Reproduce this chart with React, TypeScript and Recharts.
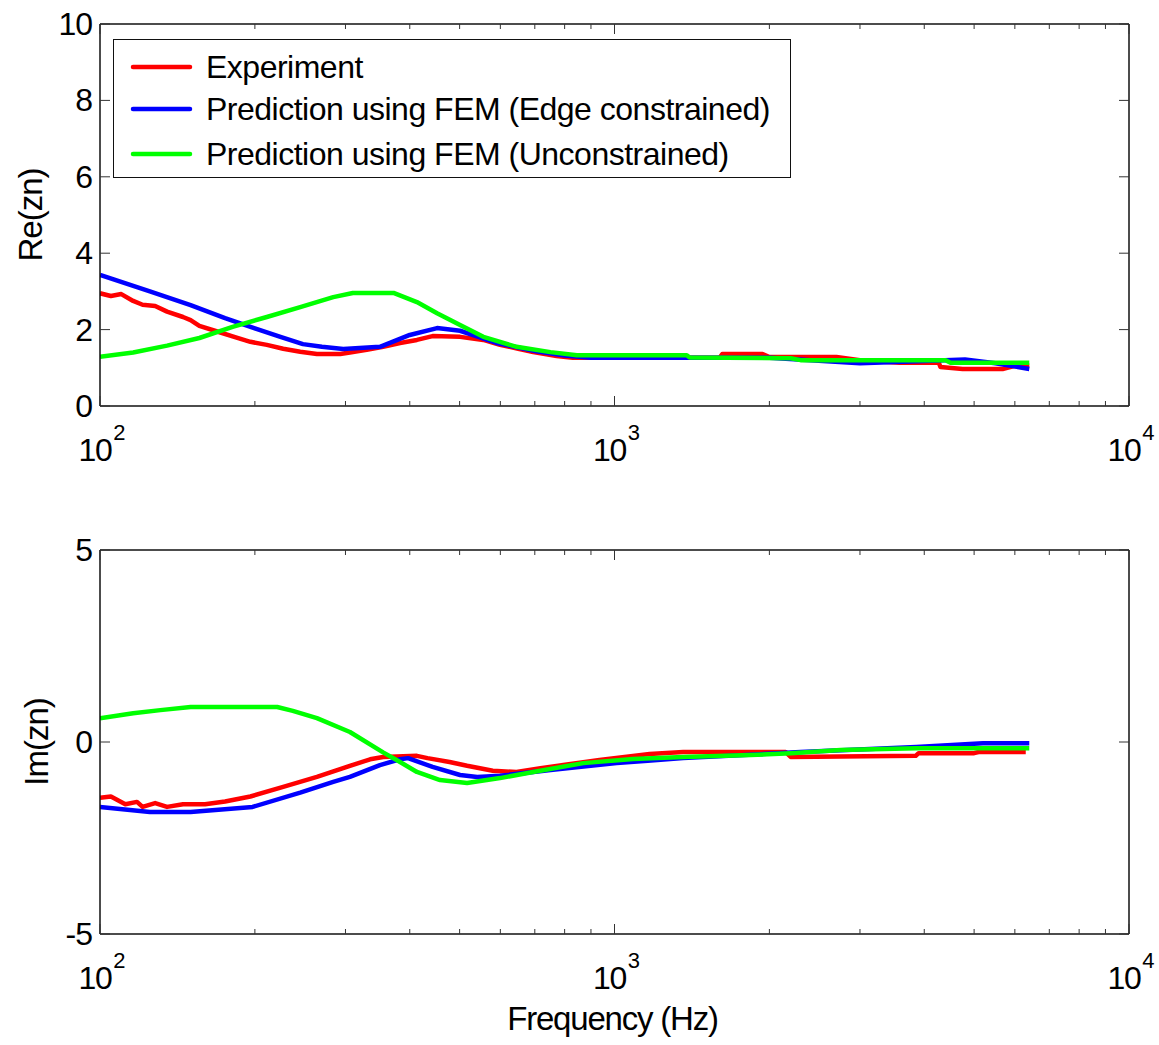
import { LineChart, Line, XAxis, YAxis, Legend } from 'recharts'

const FONT = 'Liberation Sans, Arial, Helvetica, sans-serif'

// axis ticks (log frequency axis, MATLAB-style minor ticks)
const freqTicks = [100, 200, 300, 400, 500, 600, 700, 800, 900, 1000, 2000, 3000, 4000, 5000, 6000, 7000, 8000, 9000, 10000]
const freqMajor = [100, 1000, 10000]
const reTicks = [0, 2, 4, 6, 8, 10]
const imTicks = [-5, 0, 5]

const seriesNames = ['Experiment', 'Prediction using FEM (Edge constrained)', 'Prediction using FEM (Unconstrained)']
const seriesColors = ['#ff0000', '#0000ff', '#00ff00']

// Re(zn) - experiment
const expReFreq = [100, 105, 110, 116, 121, 128, 135, 145, 150, 156, 169, 181, 196, 211, 227, 245, 264, 293, 306, 330, 355, 383, 413, 443, 501, 556, 599, 650, 695, 772, 830, 1000, 1300, 1600, 1620, 1940, 2000, 2700, 3000, 3580, 4270, 4300, 4750, 5680, 6000, 6400]
const expRe = [2.95, 2.88, 2.93, 2.75, 2.65, 2.62, 2.47, 2.33, 2.25, 2.1, 1.95, 1.82, 1.68, 1.6, 1.5, 1.42, 1.36, 1.36, 1.4, 1.47, 1.55, 1.65, 1.73, 1.83, 1.81, 1.73, 1.6, 1.5, 1.41, 1.31, 1.26, 1.26, 1.26, 1.26, 1.36, 1.36, 1.28, 1.28, 1.2, 1.13, 1.13, 1.02, 0.97, 0.97, 1.05, 1.07]

// Re(zn) - FEM edge constrained
const edgeReFreq = [100, 125, 150, 175, 200, 225, 248, 270, 297, 350, 400, 452, 501, 590, 705, 800, 900, 2000, 3000, 4000, 4800, 5500, 6400]
const edgeRe = [3.43, 3.0, 2.64, 2.3, 2.03, 1.8, 1.62, 1.55, 1.49, 1.55, 1.86, 2.04, 1.97, 1.65, 1.43, 1.32, 1.26, 1.26, 1.12, 1.18, 1.22, 1.12, 0.97]

// Re(zn) - FEM unconstrained
const freeReFreq = [100, 116, 135, 156, 181, 211, 245, 284, 310, 372, 413, 452, 501, 556, 645, 751, 845, 1382, 1400, 2200, 2300, 4400, 4500, 6400]
const freeRe = [1.29, 1.4, 1.58, 1.78, 2.07, 2.33, 2.59, 2.85, 2.96, 2.96, 2.72, 2.43, 2.12, 1.81, 1.55, 1.41, 1.33, 1.33, 1.27, 1.25, 1.2, 1.2, 1.13, 1.13]

// Im(zn) - experiment
const expImFreq = [100, 105, 112, 118, 121, 128, 135, 145, 160, 175, 196, 227, 264, 306, 335, 355, 413, 433, 478, 517, 580, 645, 718, 935, 1170, 1360, 2150, 2200, 3850, 3900, 5000, 5100, 6300]
const expIm = [-1.45, -1.42, -1.62, -1.56, -1.69, -1.59, -1.69, -1.62, -1.62, -1.55, -1.42, -1.17, -0.91, -0.62, -0.45, -0.39, -0.36, -0.42, -0.52, -0.62, -0.75, -0.78, -0.68, -0.47, -0.31, -0.26, -0.26, -0.39, -0.36, -0.29, -0.29, -0.26, -0.26]

// Im(zn) - FEM edge constrained
const edgeImFreq = [100, 125, 150, 198, 245, 284, 306, 350, 383, 397, 443, 501, 541, 599, 751, 1010, 1360, 2300, 3860, 5200, 6400]
const edgeIm = [-1.69, -1.82, -1.82, -1.69, -1.32, -1.04, -0.91, -0.6, -0.45, -0.42, -0.65, -0.86, -0.91, -0.88, -0.73, -0.55, -0.42, -0.26, -0.13, -0.03, -0.03]

// Im(zn) - FEM unconstrained
const freeImFreq = [100, 116, 131, 150, 221, 237, 264, 306, 355, 383, 413, 458, 517, 599, 695, 870, 1086, 1360, 1838, 2200, 2750, 3860, 6400]
const freeIm = [0.62, 0.75, 0.83, 0.91, 0.91, 0.81, 0.62, 0.26, -0.27, -0.52, -0.78, -0.99, -1.07, -0.94, -0.78, -0.55, -0.44, -0.39, -0.34, -0.29, -0.21, -0.16, -0.16]

const pairs = (fs: number[], vs: number[]) => fs.map((f, i) => ({ f, v: vs[i] }))

const reSeries = [pairs(expReFreq, expRe), pairs(edgeReFreq, edgeRe), pairs(freeReFreq, freeRe)]
const imSeries = [pairs(expImFreq, expIm), pairs(edgeImFreq, edgeIm), pairs(freeImFreq, freeIm)]

const AXIS = { stroke: '#111', strokeWidth: 1.5 }

const XTick = (props: any) => {
  const { x, y, payload, side } = props
  const v = payload.value
  const major = freqMajor.includes(v)
  const len = major ? 10 : 5
  const dir = side === 'top' ? 1 : -1
  return (
    <g>
      <line x1={x} y1={y} x2={x} y2={y + dir * len} stroke="#333" strokeWidth={1} />
      {major && side === 'bottom' && (
        <text x={x + 2} y={y + 55} textAnchor="middle" fontFamily={FONT} fontSize={32} letterSpacing={-1.5} fill="#000">
          <tspan>10</tspan>
          <tspan dx={2} dy={-21} fontSize={22} letterSpacing={0}>{Math.round(Math.log10(v))}</tspan>
        </text>
      )}
    </g>
  )
}

const YTick = (props: any) => {
  const { x, y, payload, side } = props
  const dir = side === 'left' ? 1 : -1
  return (
    <g>
      <line x1={x} y1={y} x2={x + dir * 10} y2={y} stroke="#333" strokeWidth={1} />
      {side === 'left' && (
        <text x={x - 8} y={y + 11} textAnchor="end" fontFamily={FONT} fontSize={32} letterSpacing={-1} fill="#000">
          {payload.value}
        </text>
      )}
    </g>
  )
}

const LegendBox = () => {
  const rows = [27, 69, 114]
  return (
    <div style={{ width: 678, height: 139, border: '1.5px solid #111', boxSizing: 'border-box', background: '#fff' }}>
      <svg width={676} height={136}>
        {seriesNames.map((name, i) => (
          <g key={name}>
            <line x1={19} x2={76} y1={rows[i]} y2={rows[i]} stroke={seriesColors[i]} strokeWidth={4.5} strokeLinecap="round" />
            <text x={92} y={rows[i] + 11} fontFamily={FONT} fontSize={32} letterSpacing={-0.5} fill="#000">
              {name}
            </text>
          </g>
        ))}
      </svg>
    </div>
  )
}

const yLabel = (text: string, bx: number) => (p: any) => {
  const vb = p.viewBox || { y: 0, height: 0 }
  const cy = vb.y + vb.height / 2
  return (
    <text transform={`translate(${bx}, ${cy}) rotate(-90)`} textAnchor="middle" fontFamily={FONT} fontSize={33} letterSpacing={-1} fill="#000">
      {text}
    </text>
  )
}

const freqLabel = (p: any) => {
  const vb = p.viewBox || { x: 0, y: 0, width: 0 }
  return (
    <text x={vb.x + vb.width / 2 - 2} y={vb.y + 96} textAnchor="middle" fontFamily={FONT} fontSize={33} letterSpacing={-1.2} fill="#000">
      Frequency (Hz)
    </text>
  )
}

// axes are 1px thick so recharts still renders them; margins are reduced by 1 to compensate
const Panel = (props: any) => {
  const { height, margin, series, yDomain, yTicks, yName, yLabelX, showLegend, showXLabel } = props
  return (
    <LineChart width={1159} height={height} margin={margin}>
      <XAxis
        xAxisId="b"
        dataKey="f"
        type="number"
        scale="log"
        domain={[100, 10000]}
        ticks={freqTicks}
        interval={0}
        allowDataOverflow
        height={1}
        tickSize={0}
        tickMargin={0}
        tickLine={false}
        axisLine={AXIS}
        tick={<XTick side="bottom" />}
        label={showXLabel ? { content: freqLabel } : undefined}
      />
      <XAxis
        xAxisId="t"
        orientation="top"
        dataKey="f"
        type="number"
        scale="log"
        domain={[100, 10000]}
        ticks={freqTicks}
        interval={0}
        allowDataOverflow
        height={1}
        tickSize={0}
        tickMargin={0}
        tickLine={false}
        axisLine={AXIS}
        tick={<XTick side="top" />}
      />
      <YAxis
        yAxisId="l"
        type="number"
        domain={yDomain}
        ticks={yTicks}
        interval={0}
        allowDataOverflow
        width={1}
        tickSize={0}
        tickMargin={0}
        tickLine={false}
        axisLine={AXIS}
        tick={<YTick side="left" />}
        label={{ content: yLabel(yName, yLabelX) }}
      />
      <YAxis
        yAxisId="r"
        orientation="right"
        type="number"
        domain={yDomain}
        ticks={yTicks}
        interval={0}
        allowDataOverflow
        width={1}
        tickSize={0}
        tickMargin={0}
        tickLine={false}
        axisLine={AXIS}
        tick={<YTick side="right" />}
      />
      {showLegend && (
        <Legend
          layout="vertical"
          align="center"
          verticalAlign="middle"
          content={() => <LegendBox />}
          wrapperStyle={{ left: 113, top: 39, width: 678, height: 139 }}
        />
      )}
      {series.map((d: any, i: number) => (
        <Line
          key={seriesNames[i]}
          name={seriesNames[i]}
          data={d}
          dataKey="v"
          xAxisId="b"
          yAxisId="l"
          type="linear"
          stroke={seriesColors[i]}
          strokeWidth={4.5}
          strokeLinejoin="round"
          dot={false}
          activeDot={false}
          isAnimationActive={false}
        />
      ))}
    </LineChart>
  )
}

export default function App() {
  return (
    <div style={{ position: 'absolute', left: 0, top: 0, width: 1159, height: 1045, background: '#fff' }}>
      <div style={{ position: 'absolute', left: 0, top: 0 }}>
        <Panel
          height={480}
          margin={{ top: 23, right: 29, bottom: 73, left: 99 }}
          series={reSeries}
          yDomain={[0, 10]}
          yTicks={reTicks}
          yName="Re(zn)"
          yLabelX={42}
          showLegend
        />
      </div>
      <div style={{ position: 'absolute', left: 0, top: 480 }}>
        <Panel
          height={565}
          margin={{ top: 69, right: 29, bottom: 110, left: 99 }}
          series={imSeries}
          yDomain={[-5, 5]}
          yTicks={imTicks}
          yName="Im(zn)"
          yLabelX={48}
          showXLabel
        />
      </div>
    </div>
  )
}
